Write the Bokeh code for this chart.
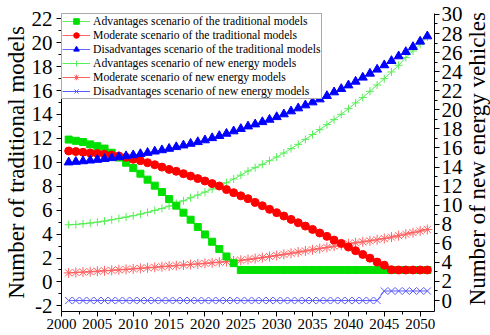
import math
from bokeh.plotting import figure
from bokeh.models import Range1d, LinearAxis, FixedTicker, Legend, LegendItem, Label
from bokeh.embed import file_html
from bokeh.resources import INLINE

# ---- data -------------------------------------------------------------
years = list(range(2001, 2052))

# traditional models (left axis)
trad_advantage = [11.9, 11.8, 11.7, 11.5, 11.35, 11.15, 10.8, 10.4, 9.97, 9.52,
                  9.05, 8.55, 8.05, 7.52, 6.93, 6.38, 5.79, 5.2, 4.59, 3.97,
                  3.36, 2.75, 2.13, 1.57, 1.0, 1.0, 1.0, 1.0, 1.0, 1.0,
                  1.0, 1.0, 1.0, 1.0, 1.0, 1.0, 1.0, 1.0, 1.0, 1.0,
                  1.0, 1.0, 1.0, 1.0, 1.0, 1.0, 1.0, 1.0, 1.0, 1.0, 1.0]
trad_moderate = [10.95, 10.9, 10.84, 10.78, 10.73, 10.67, 10.61, 10.53, 10.42, 10.25,
                 10.14, 9.97, 9.8, 9.6, 9.41, 9.25, 9.05, 8.85, 8.64, 8.44,
                 8.22, 8.02, 7.72, 7.46, 7.2, 6.96, 6.65, 6.37, 6.07, 5.79,
                 5.51, 5.23, 4.95, 4.67, 4.39, 4.09, 3.81, 3.5, 3.22, 2.92,
                 2.61, 2.3, 1.99, 1.66, 1.4, 1.02, 1.0, 1.0, 1.0, 1.0, 1.0]
trad_disadvantage = [10.0, 10.05, 10.1, 10.16, 10.22, 10.29, 10.36, 10.44, 10.52, 10.6,
                     10.7, 10.8, 10.91, 11.02, 11.14, 11.28, 11.42, 11.56, 11.7, 11.85,
                     12.03, 12.21, 12.4, 12.6, 12.8, 13.01, 13.18, 13.37, 13.57, 13.79,
                     14.02, 14.27, 14.52, 14.77, 15.02, 15.27, 15.55, 15.86, 16.14, 16.44,
                     16.75, 17.09, 17.42, 17.76, 18.12, 18.48, 18.87, 19.23, 19.65, 20.1, 20.54]

# new energy vehicles (right axis)
ne_advantage = [7.94, 7.98, 8.05, 8.12, 8.22, 8.33, 8.47, 8.61, 8.75, 8.89,
                9.06, 9.24, 9.45, 9.66, 9.9, 10.18, 10.46, 10.78, 11.06, 11.37,
                11.69, 12.0, 12.35, 12.74, 13.15, 13.58, 13.93, 14.28, 14.66, 15.05,
                15.47, 15.93, 16.38, 16.9, 17.4, 17.92, 18.45, 18.97, 19.53, 20.12,
                20.72, 21.28, 21.94, 22.6, 23.27, 23.97, 24.67, 25.48, 26.17, 26.88, 27.64]
ne_moderate = [2.9, 2.94, 2.98, 3.02, 3.07, 3.12, 3.17, 3.22, 3.27, 3.32,
               3.38, 3.43, 3.49, 3.55, 3.61, 3.66, 3.72, 3.78, 3.84, 3.9,
               3.96, 4.02, 4.09, 4.15, 4.22, 4.3, 4.4, 4.5, 4.61, 4.72,
               4.84, 4.96, 5.08, 5.2, 5.32, 5.45, 5.57, 5.7, 5.82, 5.95,
               6.05, 6.15, 6.26, 6.37, 6.5, 6.65, 6.8, 6.96, 7.12, 7.29, 7.45]
ne_disadvantage = [0] * 44 + [1] * 7

x_ticks = [2000, 2005, 2010, 2015, 2020, 2025, 2030, 2035, 2040, 2045, 2050]
left_ticks = [-2, 0, 2, 4, 6, 8, 10, 12, 14, 16, 18, 20, 22]
right_ticks = [0, 2, 4, 6, 8, 10, 12, 14, 16, 18, 20, 22, 24, 26, 28, 30]

FONT = "Liberation Serif"

# ---- figure -----------------------------------------------------------
p = figure(width=490, height=335, output_backend="svg", toolbar_location=None,
           x_range=Range1d(2000, 2052), y_range=Range1d(-2.47, 22.44),
           min_border_left=61, min_border_right=48,
           min_border_top=13, min_border_bottom=24)
p.extra_y_ranges = {"ne": Range1d(-1.15, 30.1)}
p.outline_line_color = None
p.grid.visible = False
p.xaxis.visible = False
p.yaxis.visible = False


def style_axis(ax, size, standoff):
    ax.axis_line_color = "black"
    ax.axis_line_width = 1
    ax.major_tick_line_color = "black"
    ax.minor_tick_line_color = "black"
    ax.major_tick_in = 0
    ax.major_tick_out = 5
    ax.minor_tick_in = 0
    ax.minor_tick_out = 3
    ax.major_label_text_font = FONT
    ax.major_label_text_font_size = size
    ax.major_label_text_color = "black"
    ax.axis_label_text_font = FONT
    ax.axis_label_text_font_size = "23px"
    ax.axis_label_text_font_style = "normal"
    ax.axis_label_text_color = "black"
    ax.major_label_standoff = standoff
    ax.axis_label_standoff = 0


bottom = LinearAxis(ticker=FixedTicker(ticks=x_ticks,
                                       minor_ticks=[t + 2.5 for t in x_ticks]))
style_axis(bottom, "15px", 2)
p.add_layout(bottom, "below")

left = LinearAxis(axis_label="Number of traditional models",
                  ticker=FixedTicker(ticks=left_ticks,
                                     minor_ticks=[t + 1 for t in left_ticks]))
style_axis(left, "21px", 4)
left.major_label_overrides = {-2: "-2"}
p.add_layout(left, "left")

right = LinearAxis(y_range_name="ne",
                   ticker=FixedTicker(ticks=right_ticks,
                                      minor_ticks=[t + 1 for t in right_ticks[:-1]]))
style_axis(right, "21px", 2)
p.add_layout(right, "right")

# right-hand title, reading bottom-to-top like the left one
p.add_layout(Label(x=2058.0, y=10.3, text="Number of new energy vehicles",
                   angle=math.pi / 2, text_align="center", text_baseline="middle",
                   text_font=FONT, text_font_size="23px", text_color="black"),
             "right")

# ---- series -----------------------------------------------------------
def series(y, line_color, marker, fill, size, y_range="default"):
    ln = p.line(years, y, line_color=line_color, line_width=1, y_range_name=y_range)
    solid = marker in ("square", "circle", "triangle")
    sc = p.scatter(years, y, marker=marker, size=size, fill_color=fill,
                   line_color=fill if solid else line_color,
                   line_width=1, y_range_name=y_range)
    return [ln, sc]

r_ne_dis = series(ne_disadvantage, "#5a5aff", "x", "#5a5aff", 10, "ne")
r_ne_mod = series(ne_moderate, "#ff6060", "asterisk", "#ff6060", 10, "ne")
r_ne_adv = series(ne_advantage, "#55ee55", "cross", "#55ee55", 8, "ne")
r_tr_adv = series(trad_advantage, "#66ee66", "square", "#00e000", 7)
r_tr_mod = series(trad_moderate, "#ff6666", "circle", "#ff0000", 8)
r_tr_dis = series(trad_disadvantage, "#6666ff", "triangle", "#0000ff", 9)

legend = Legend(items=[
    LegendItem(label="Advantages scenario of the traditional models", renderers=r_tr_adv),
    LegendItem(label="Moderate scenario of the traditional models", renderers=r_tr_mod),
    LegendItem(label="Disadvantages scenario of the traditional models", renderers=r_tr_dis),
    LegendItem(label="Advantages scenario of new energy models", renderers=r_ne_adv),
    LegendItem(label="Moderate scenario of new energy models", renderers=r_ne_mod),
    LegendItem(label="Disadvantages scenario of new energy models", renderers=r_ne_dis),
], location="top_left")
legend.margin = 0
legend.padding = 0
legend.spacing = 0
legend.label_height = 14
legend.glyph_height = 14
legend.glyph_width = 28
legend.label_standoff = 3
legend.label_text_font = FONT
legend.label_text_font_size = "11.7px"
legend.label_text_color = "black"
legend.border_line_color = "#555555"
legend.border_line_width = 1
legend.background_fill_color = "white"
legend.background_fill_alpha = 1.0
p.add_layout(legend)

open("out.html", "w").write(file_html(p, INLINE))
